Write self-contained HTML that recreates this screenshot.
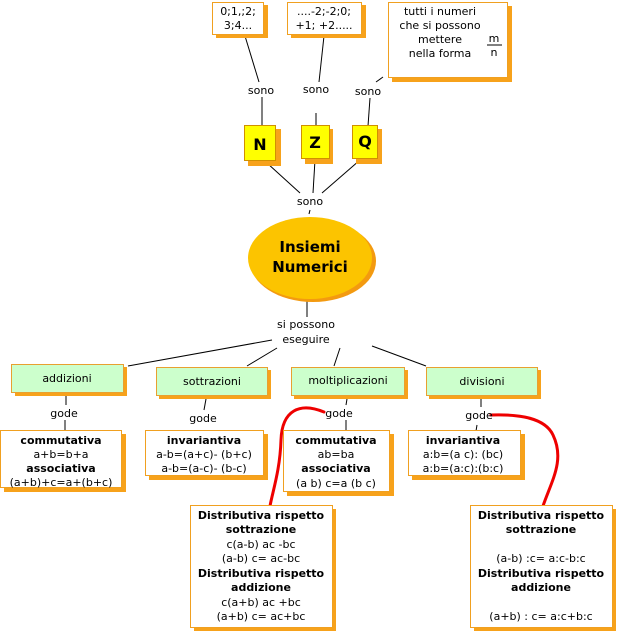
<!DOCTYPE html>
<html><head><meta charset="utf-8"><style>
html,body{margin:0;padding:0;background:#fff;}
svg{display:block;font-family:"DejaVu Sans","Liberation Sans",sans-serif;font-size:11px;}
text{fill:#000;}
.b{font-weight:bold;}
</style></head><body>
<svg width="620" height="634" viewBox="0 0 620 634" xmlns="http://www.w3.org/2000/svg">
<g stroke="#000" stroke-width="1" fill="none">
<line x1="245" y1="36" x2="259" y2="82"/>
<line x1="262" y1="97" x2="262" y2="125"/>
<line x1="324" y1="36" x2="319" y2="82"/>
<line x1="316" y1="113" x2="316" y2="126"/>
<line x1="383" y1="77" x2="376" y2="82"/>
<line x1="370" y1="98" x2="368" y2="126"/>
<line x1="267" y1="163" x2="300" y2="193"/>
<line x1="315" y1="160" x2="313" y2="193"/>
<line x1="360" y1="160" x2="322" y2="193"/>
<line x1="310" y1="210" x2="309" y2="214"/>
<line x1="307" y1="300" x2="307" y2="317"/>
<line x1="272" y1="340" x2="128" y2="366"/>
<line x1="277" y1="348" x2="247" y2="366"/>
<line x1="340" y1="348" x2="334" y2="366"/>
<line x1="372" y1="346" x2="426" y2="366"/>
<line x1="66" y1="395" x2="66" y2="405"/>
<line x1="65" y1="420" x2="65" y2="431"/>
<line x1="206" y1="399" x2="204" y2="410"/>
<line x1="347" y1="399" x2="346" y2="405"/>
<line x1="346" y1="420" x2="346" y2="431"/>
<line x1="481" y1="399" x2="481" y2="407"/>
<line x1="477" y1="425" x2="476" y2="431"/>
</g>
<g stroke="#e00" stroke-width="3" fill="none" stroke-linecap="round">
<path d="M324,412 C300,402 282,410 281,440 C280,470 273,490 270,506"/>
<path d="M491,415 C520,414 545,418 553,435 C565,460 552,480 543,506"/>
</g>
<!-- top boxes -->
<g>
<rect x="216" y="5" width="52" height="33" fill="#f7a21b"/>
<rect x="212.5" y="2.5" width="51" height="32" fill="#fff" stroke="#f0a020"/>
<rect x="291" y="5" width="75" height="33" fill="#f7a21b"/>
<rect x="287.5" y="2.5" width="74" height="32" fill="#fff" stroke="#f0a020"/>
<rect x="392" y="6" width="120" height="76" fill="#f7a21b"/>
<rect x="388.5" y="2.5" width="119" height="75" fill="#fff" stroke="#f0a020"/>
</g>
<g text-anchor="middle">
<text x="238" y="15">0;1,;2;</text>
<text x="238" y="29">3;4...</text>
<text x="324" y="15">....-2;-2;0;</text>
<text x="324" y="29">+1; +2.....</text>
<text x="440" y="15">tutti i numeri</text>
<text x="440" y="29">che si possono</text>
<text x="440" y="43">mettere</text>
<text x="440" y="57">nella forma</text>
<text x="494" y="42">m</text>
<text x="494" y="56">n</text>
<text x="261" y="94">sono</text>
<text x="316" y="93">sono</text>
<text x="368" y="95">sono</text>
<text x="310" y="205">sono</text>
</g>
<line x1="487" y1="45" x2="502" y2="45" stroke="#000"/>
<!-- NZQ -->
<g>
<rect x="248" y="129" width="33" height="37" fill="#f7a21b"/>
<rect x="244.5" y="125.5" width="31" height="35" fill="#ffff00" stroke="#d09000"/>
<rect x="305" y="129" width="28" height="35" fill="#f7a21b"/>
<rect x="301.5" y="125.5" width="28" height="33" fill="#ffff00" stroke="#d09000"/>
<rect x="356" y="129" width="26" height="35" fill="#f7a21b"/>
<rect x="352.5" y="125.5" width="25" height="33" fill="#ffff00" stroke="#d09000"/>
</g>
<g text-anchor="middle" class="b" font-size="16">
<text x="260" y="150" class="b">N</text>
<text x="315" y="148" class="b">Z</text>
<text x="365" y="147" class="b">Q</text>
</g>
<!-- ellipse -->
<ellipse cx="313" cy="261" rx="63" ry="41" fill="#f39a10"/>
<ellipse cx="310" cy="258" rx="62" ry="41" fill="#fcc400"/>
<g text-anchor="middle" class="b" font-size="15">
<text x="310" y="252" class="b">Insiemi</text>
<text x="310" y="272" class="b">Numerici</text>
</g>
<g text-anchor="middle">
<text x="306" y="328">si possono</text>
<text x="306" y="343">eseguire</text>
</g>
<!-- green boxes -->
<g>
<rect x="15" y="367" width="112" height="29" fill="#f7a21b"/>
<rect x="11.5" y="364.5" width="112" height="28" fill="#ccffcc" stroke="#e8a030"/>
<rect x="159" y="370" width="112" height="29" fill="#f7a21b"/>
<rect x="156.5" y="367.5" width="111" height="28" fill="#ccffcc" stroke="#e8a030"/>
<rect x="294" y="370" width="114" height="29" fill="#f7a21b"/>
<rect x="291.5" y="367.5" width="113" height="28" fill="#ccffcc" stroke="#e8a030"/>
<rect x="429" y="370" width="112" height="29" fill="#f7a21b"/>
<rect x="426.5" y="367.5" width="111" height="28" fill="#ccffcc" stroke="#e8a030"/>
</g>
<g text-anchor="middle">
<text x="67" y="382">addizioni</text>
<text x="212" y="385">sottrazioni</text>
<text x="348" y="384">moltiplicazioni</text>
<text x="482" y="385">divisioni</text>
<text x="64" y="417">gode</text>
<text x="203" y="422">gode</text>
<text x="339" y="417">gode</text>
<text x="479" y="419">gode</text>
</g>
<!-- property boxes -->
<g>
<rect x="4" y="434" width="122" height="58" fill="#f7a21b"/>
<rect x="0.5" y="430.5" width="121" height="57" fill="#fff" stroke="#f0a020"/>
<rect x="149" y="434" width="119" height="46" fill="#f7a21b"/>
<rect x="145.5" y="430.5" width="118" height="45" fill="#fff" stroke="#f0a020"/>
<rect x="287" y="434" width="107" height="62" fill="#f7a21b"/>
<rect x="283.5" y="430.5" width="106" height="61" fill="#fff" stroke="#f0a020"/>
<rect x="412" y="434" width="113" height="46" fill="#f7a21b"/>
<rect x="408.5" y="430.5" width="112" height="45" fill="#fff" stroke="#f0a020"/>
<rect x="194" y="509" width="142" height="122" fill="#f7a21b"/>
<rect x="190.5" y="505.5" width="142" height="122" fill="#fff" stroke="#f0a020"/>
<rect x="474" y="509" width="142" height="122" fill="#f7a21b"/>
<rect x="470.5" y="505.5" width="142" height="122" fill="#fff" stroke="#f0a020"/>
</g>
<g text-anchor="middle">
<text x="61" y="444" class="b">commutativa</text>
<text x="61" y="458">a+b=b+a</text>
<text x="61" y="472" class="b">associativa</text>
<text x="61" y="486">(a+b)+c=a+(b+c)</text>
<text x="204" y="444" class="b">invariantiva</text>
<text x="204" y="458">a-b=(a+c)- (b+c)</text>
<text x="204" y="472">a-b=(a-c)- (b-c)</text>
<text x="336" y="444" class="b">commutativa</text>
<text x="336" y="458">ab=ba</text>
<text x="336" y="472" class="b">associativa</text>
<text x="336" y="487">(a b) c=a (b c)</text>
<text x="463" y="444" class="b">invariantiva</text>
<text x="463" y="458">a:b=(a c): (bc)</text>
<text x="463" y="472">a:b=(a:c):(b:c)</text>
<text x="261" y="519" class="b">Distributiva rispetto</text>
<text x="261" y="533" class="b">sottrazione</text>
<text x="261" y="548">c(a-b) ac -bc</text>
<text x="261" y="562">(a-b) c= ac-bc</text>
<text x="261" y="577" class="b">Distributiva rispetto</text>
<text x="261" y="591" class="b">addizione</text>
<text x="261" y="606">c(a+b) ac +bc</text>
<text x="261" y="620">(a+b) c= ac+bc</text>
<text x="541" y="519" class="b">Distributiva rispetto</text>
<text x="541" y="533" class="b">sottrazione</text>
<text x="541" y="562">(a-b) :c= a:c-b:c</text>
<text x="541" y="577" class="b">Distributiva rispetto</text>
<text x="541" y="591" class="b">addizione</text>
<text x="541" y="620">(a+b) : c= a:c+b:c</text>
</g>
</svg>
</body></html>
